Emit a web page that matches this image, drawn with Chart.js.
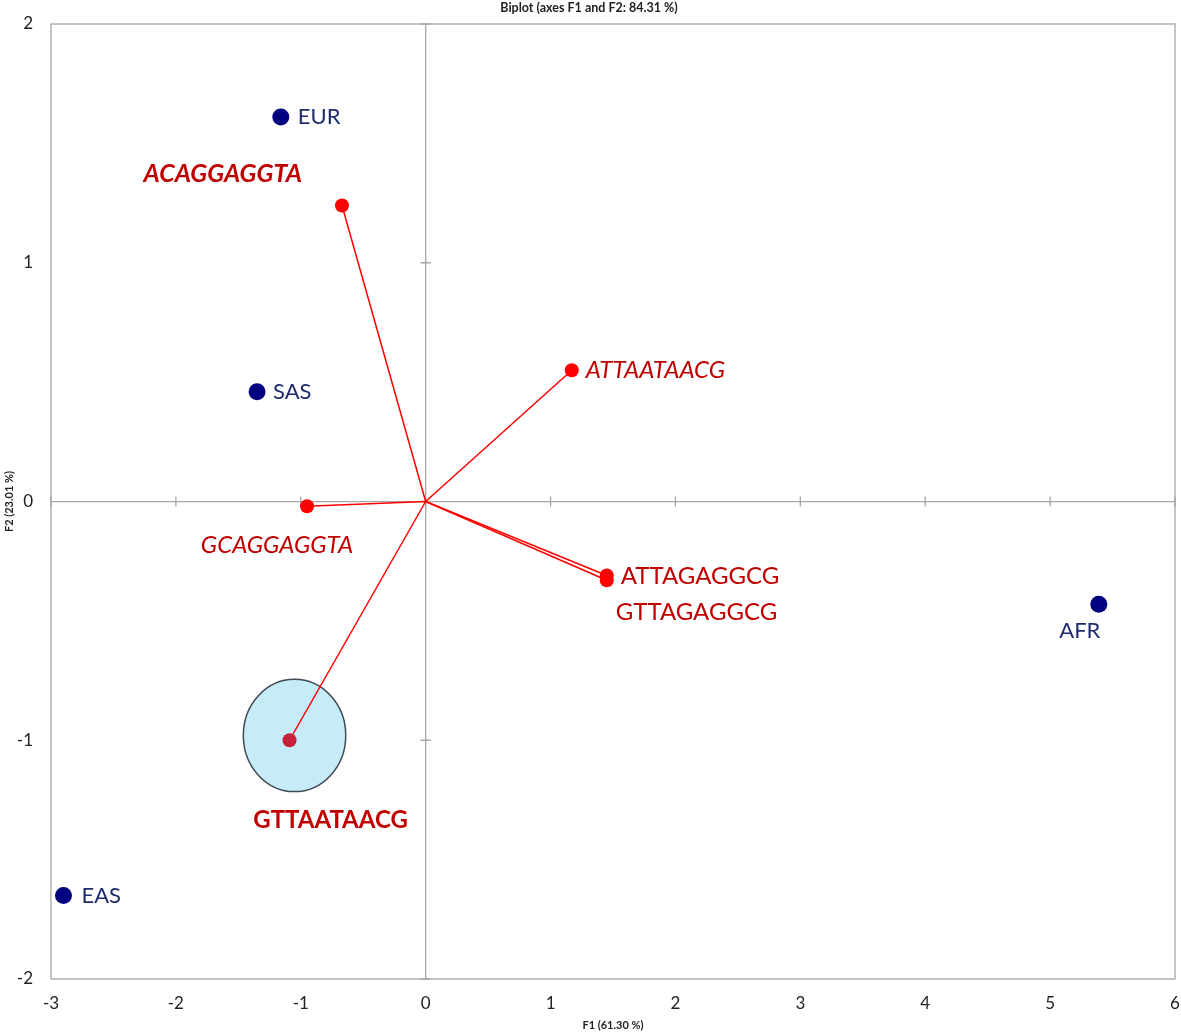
<!DOCTYPE html>
<html>
<head>
<meta charset="utf-8">
<script src="https://cdn.jsdelivr.net/npm/chart.js@4.4.1/dist/chart.umd.min.js"></script>
<style>
  html, body { margin: 0; padding: 0; background: #fff; }
  #biplot { display: block; }
</style>
</head>
<body>
<canvas id="biplot" width="1181" height="1035"></canvas>
<script>
// populations (observations)
const popNames = ['EUR', 'SAS', 'EAS', 'AFR'];
const popF1 = [-1.16, -1.35, -2.90, 5.39];
const popF2 = [1.61, 0.46, -1.65, -0.43];

// haplotypes (variable vectors)
const hapNames = ['ACAGGAGGTA', 'ATTAATAACG', 'GCAGGAGGTA', 'ATTAGAGGCG', 'GTTAGAGGCG', 'GTTAATAACG'];
const hapF1 = [-0.67, 1.17, -0.95, 1.45, 1.45, -1.09];
const hapF2 = [1.24, 0.55, -0.02, -0.31, -0.33, -1.00];

// highlighted region round GTTAATAACG
const ellipseCenter = [-1.05, -0.98];
const ellipseRadius = [0.41, 0.235];

const xTicks = [-3, -2, -1, 0, 1, 2, 3, 4, 5, 6];
const yTicks = [-2, -1, 0, 1, 2];

const FONT = 'Lato, "Open Sans", sans-serif';

// label look, kept apart from the values
const popLabelStyle = {
  EUR: { dx: 17, dy: 0, align: 'left' },
  SAS: { dx: 16, dy: 0, align: 'left' },
  EAS: { dx: 18, dy: 0, align: 'left' },
  AFR: { dx: -19, dy: 27, align: 'center' }
};
const hapLabelStyle = {
  ACAGGAGGTA: { dx: -40, dy: -32, align: 'right', font: 'italic bold 25px' },
  ATTAATAACG: { dx: 14, dy: 0, align: 'left', font: 'italic 24px' },
  GCAGGAGGTA: { dx: -30, dy: 39, align: 'center', font: 'italic 24px' },
  ATTAGAGGCG: { dx: 14, dy: 1, align: 'left', font: '24px' },
  GTTAGAGGCG: { dx: 9, dy: 32, align: 'left', font: '24px' },
  GTTAATAACG: { dx: 41, dy: 80, align: 'center', font: 'bold 24px' }
};

const datasets = [];
hapNames.forEach(function (name, i) {
  const special = name === 'GTTAATAACG';
  datasets.push({
    label: name,
    data: [{ x: 0, y: 0 }, { x: hapF1[i], y: hapF2[i] }],
    showLine: true,
    borderColor: '#ff0000',
    borderWidth: 1.5,
    pointRadius: [0, 7],
    pointBackgroundColor: special ? '#c8203a' : '#ff0000',
    pointBorderWidth: 0
  });
});
datasets.push({
  label: 'populations',
  data: popF1.map((x, i) => ({ x: x, y: popF2[i] })),
  showLine: false,
  pointRadius: 8.5,
  pointBackgroundColor: '#000080',
  pointBorderWidth: 0
});

// box, zero axes with their small ticks, the ellipse
const framePlugin = {
  id: 'frame',
  beforeDatasetsDraw(chart) {
    const ctx = chart.ctx, a = chart.chartArea;
    const xs = chart.scales.x, ys = chart.scales.y;
    const x0 = xs.getPixelForValue(0), y0 = ys.getPixelForValue(0);
    ctx.save();
    ctx.strokeStyle = '#a6a6a6';
    ctx.lineWidth = 1.3;
    ctx.strokeRect(a.left, a.top, a.right - a.left, a.bottom - a.top);
    ctx.beginPath();
    xTicks.forEach(function (v) {
      const px = xs.getPixelForValue(v);
      ctx.moveTo(px, y0 - 5); ctx.lineTo(px, y0 + 5);
    });
    yTicks.forEach(function (v) {
      const py = ys.getPixelForValue(v);
      ctx.moveTo(x0 - 5, py); ctx.lineTo(x0 + 5, py);
    });
    ctx.stroke();

    const cx = xs.getPixelForValue(ellipseCenter[0]);
    const cy = ys.getPixelForValue(ellipseCenter[1]);
    const rx = xs.getPixelForValue(ellipseCenter[0] + ellipseRadius[0]) - cx;
    const ry = cy - ys.getPixelForValue(ellipseCenter[1] + ellipseRadius[1]);
    ctx.beginPath();
    ctx.ellipse(cx, cy, rx, ry, 0, 0, Math.PI * 2);
    ctx.fillStyle = '#c6ecf9';
    ctx.fill();
    ctx.strokeStyle = '#3f4a55';
    ctx.lineWidth = 1.5;
    ctx.stroke();
    ctx.restore();
  },
  afterDraw(chart) {
    const ctx = chart.ctx, a = chart.chartArea;
    const xs = chart.scales.x, ys = chart.scales.y;
    ctx.save();
    ctx.textBaseline = 'middle';

    // point labels
    popNames.forEach(function (name, i) {
      const s = popLabelStyle[name];
      ctx.font = '22px ' + FONT;
      ctx.fillStyle = '#1f2b6b';
      ctx.textAlign = s.align;
      ctx.fillText(name, xs.getPixelForValue(popF1[i]) + s.dx, ys.getPixelForValue(popF2[i]) + s.dy);
    });
    hapNames.forEach(function (name, i) {
      const s = hapLabelStyle[name];
      ctx.font = s.font + ' ' + FONT;
      ctx.fillStyle = '#c00000';
      ctx.textAlign = s.align;
      ctx.fillText(name, xs.getPixelForValue(hapF1[i]) + s.dx, ys.getPixelForValue(hapF2[i]) + s.dy);
    });

    // titles
    ctx.fillStyle = '#222';
    ctx.textAlign = 'center';
    ctx.font = 'bold 12.5px ' + FONT;
    ctx.fillText('Biplot (axes F1 and F2: 84.31 %)', 589, 8);
    ctx.font = 'bold 11px ' + FONT;
    ctx.fillText('F1 (61.30 %)', (a.left + a.right) / 2, 1025);
    ctx.translate(9, (a.top + a.bottom) / 2);
    ctx.rotate(-Math.PI / 2);
    ctx.fillText('F2 (23.01 %)', 0, 0);
    ctx.restore();
  }
};

const zeroLine = function (c) {
  return c.tick && c.tick.value === 0 ? '#a6a6a6' : 'rgba(0,0,0,0)';
};

// fixed axis boxes, no extra room for the edge labels
function fixBox(size) {
  return function (s) {
    if (s.isHorizontal()) s.height = size; else s.width = size;
    s.paddingLeft = s.paddingRight = s.paddingTop = s.paddingBottom = 0;
  };
}

new Chart(document.getElementById('biplot').getContext('2d'), {
  type: 'scatter',
  data: { datasets: datasets },
  options: {
    responsive: false,
    animation: false,
    devicePixelRatio: 1,
    layout: { autoPadding: false, padding: { top: 24, right: 6, left: 0, bottom: 0 } },
    plugins: { legend: { display: false }, tooltip: { enabled: false }, title: { display: false } },
    scales: {
      x: {
        type: 'linear',
        min: -3, max: 6,
        afterFit: fixBox(56),
        afterBuildTicks: function (s) { s.ticks = xTicks.map(v => ({ value: v })); },
        grid: { color: zeroLine, lineWidth: 1.3, drawTicks: false },
        border: { display: false },
        ticks: { padding: 14, color: '#222', font: { family: FONT, size: 17 } }
      },
      y: {
        type: 'linear',
        min: -2, max: 2,
        afterFit: fixBox(51),
        afterBuildTicks: function (s) { s.ticks = yTicks.map(v => ({ value: v })); },
        grid: { color: zeroLine, lineWidth: 1.3, drawTicks: false },
        border: { display: false },
        ticks: { padding: 18, color: '#222', font: { family: FONT, size: 17 } }
      }
    }
  },
  plugins: [framePlugin]
});
</script>
</body>
</html>
